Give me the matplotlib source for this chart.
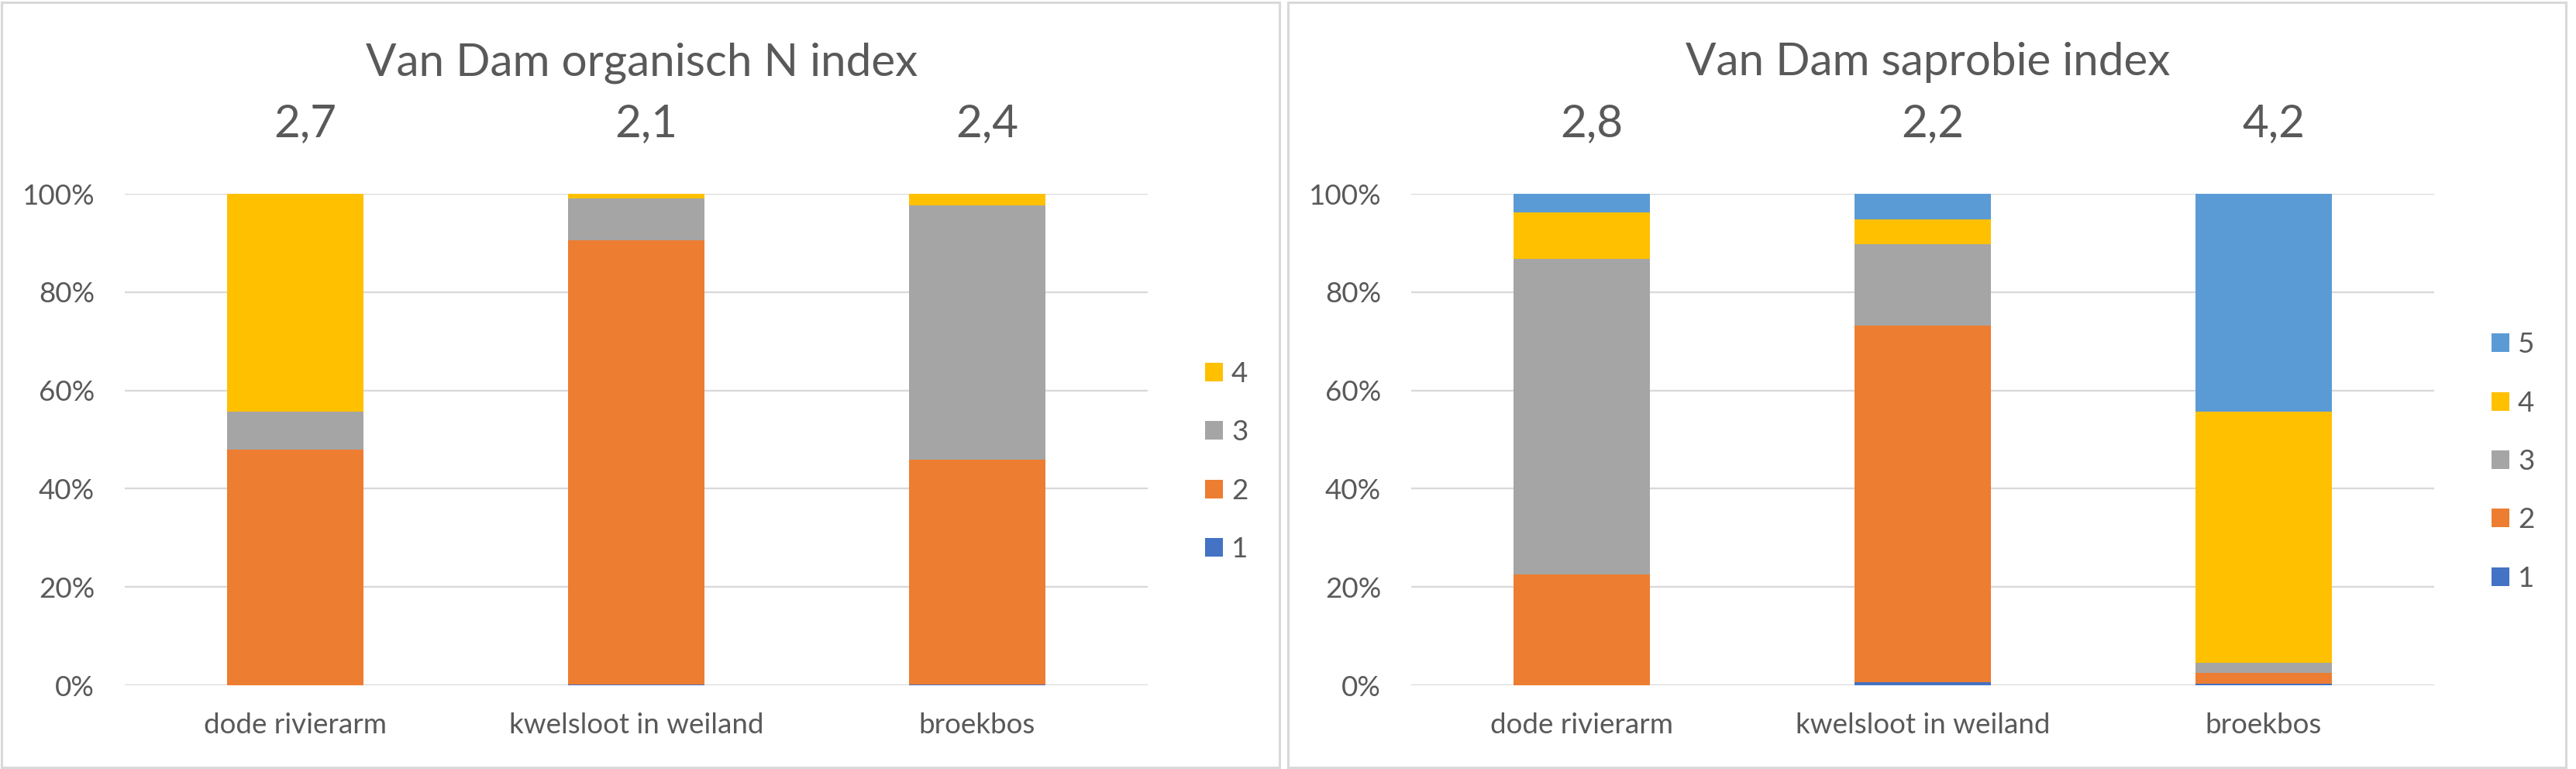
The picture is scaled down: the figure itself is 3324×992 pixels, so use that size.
import matplotlib
matplotlib.use("Agg")
import matplotlib.pyplot as plt
from matplotlib.patches import Rectangle
from matplotlib.ticker import FuncFormatter
import numpy as np

# data (shares per class)
locations = ["dode rivierarm", "kwelsloot in weiland", "broekbos"]

n_title = "Van Dam organisch N index"
n_index = ["2,7", "2,1", "2,4"]
n_classes = ["1", "2", "3", "4"]
n_class1 = [0.000, 0.001, 0.001]
n_class2 = [0.479, 0.905, 0.458]
n_class3 = [0.078, 0.085, 0.517]
n_class4 = [0.443, 0.009, 0.024]

s_title = "Van Dam saprobie index"
s_index = ["2,8", "2,2", "4,2"]
s_classes = ["1", "2", "3", "4", "5"]
s_class1 = [0.000, 0.007, 0.003]
s_class2 = [0.225, 0.725, 0.022]
s_class3 = [0.643, 0.165, 0.021]
s_class4 = [0.094, 0.051, 0.510]
s_class5 = [0.038, 0.052, 0.444]

colors = ["#4472C4", "#ED7D31", "#A5A5A5", "#FFC000", "#5B9BD5"]
text_color = "#595959"
grid_color = "#D9D9D9"

plt.rcParams["font.family"] = ["Lato", "DejaVu Sans"]

W, H = 3324, 992
fig = plt.figure(figsize=(W / 100, H / 100), dpi=100)


def draw_panel(ax, title, index_labels, classes, series, panel_x0):
    x = np.arange(len(locations))
    bottom = np.zeros(len(locations))
    handles = []
    for i, vals in enumerate(series):
        bars = ax.bar(x, vals, width=0.4, bottom=bottom, color=colors[i],
                      edgecolor="none", zorder=3, label=classes[i])
        handles.append(bars)
        bottom += np.array(vals)

    ax.set_xlim(-0.5, len(locations) - 0.5)
    ax.set_ylim(0, 1)
    ax.set_yticks(np.linspace(0, 1, 6))
    ax.yaxis.set_major_formatter(FuncFormatter(lambda v, p: f"{v*100:.0f}%"))
    ax.set_xticks(x)
    ax.set_xticklabels(locations)
    ax.tick_params(axis="both", length=0, labelsize=26.5, colors=text_color)
    ax.tick_params(axis="y", pad=28)
    ax.tick_params(axis="x", pad=25)
    ax.grid(axis="y", color=grid_color, linewidth=1.7, zorder=0)
    for s in ax.spines.values():
        s.set_visible(False)

    # index values above the bars
    for i, lab in enumerate(index_labels):
        ax.text(i + 0.03, 1.117, lab, transform=ax.get_xaxis_transform(),
                ha="center", va="baseline", fontsize=42, color=text_color)

    fig.text((panel_x0 + 828) / W, 1 - 97 / H, title, ha="center",
             va="baseline", fontsize=42, color=text_color)

    leg = ax.legend(handles=handles[::-1], loc="center left",
                    bbox_to_anchor=(1.045, 0.455), frameon=False,
                    fontsize=26.5, handlelength=0.62, handleheight=0.62,
                    handletextpad=0.3, labelspacing=1.15, borderaxespad=0)
    for t in leg.get_texts():
        t.set_color(text_color)

    fig.patches.append(Rectangle(((panel_x0 + 1.5) / W, 2 / H), 1649 / W, 987 / H,
                                 transform=fig.transFigure, fill=False,
                                 edgecolor=grid_color, linewidth=2.2))


ax1 = fig.add_axes([161 / W, 108 / H, 1320 / W, 634 / H])
draw_panel(ax1, n_title, n_index, n_classes,
           [n_class1, n_class2, n_class3, n_class4], 0)

ax2 = fig.add_axes([1821 / W, 108 / H, 1320 / W, 634 / H])
draw_panel(ax2, s_title, s_index, s_classes,
           [s_class1, s_class2, s_class3, s_class4, s_class5], 1660)

fig.savefig("out.png", dpi=100, facecolor="white")
